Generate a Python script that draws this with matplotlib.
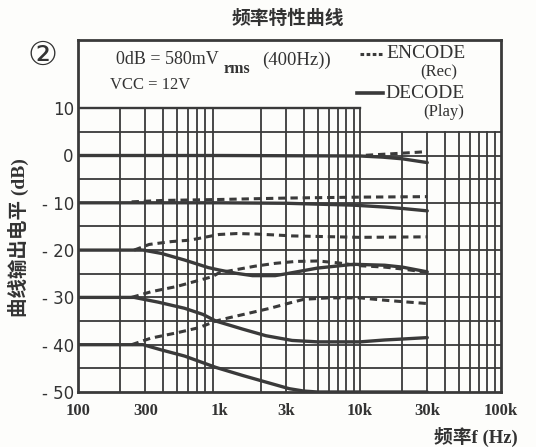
import numpy as np
import matplotlib.pyplot as plt
from matplotlib.lines import Line2D

plt.rcParams['font.family'] = ['Liberation Serif', 'Noto Sans CJK SC', 'DejaVu Sans']

# curve data: frequency (Hz) and output level (dB)
f_dec0 = [100, 1000, 10000, 14500, 20000, 30000]
dec0 = [0, 0, -0.1, -0.35, -0.7, -1.5]
f_enc0 = [11000, 16500, 26000, 30000]
enc0 = [0.05, 0.35, 0.7, 0.85]

f_dec10 = [100, 1000, 3000, 9000, 15000, 20000, 30000]
dec10 = [-10, -10, -10.1, -10.5, -10.9, -11.2, -11.7]
f_enc10 = [240, 400, 1000, 3000, 10000, 30000]
enc10 = [-9.8, -9.5, -9.3, -9.0, -8.8, -8.7]

f_dec20 = [100, 290, 390, 570, 840, 1000, 1320, 1730, 2500, 3000, 5000, 9000, 15000, 20000, 30000]
dec20 = [-20, -20, -20.7, -22.1, -23.7, -24.2, -24.9, -25.4, -25.4, -25.0, -23.8, -23.0, -23.2, -23.6, -24.6]
f_enc20 = [250, 320, 460, 620, 820, 1000, 1340, 1800, 2500, 3300, 10000, 30000]
enc20 = [-20, -18.8, -18.2, -17.9, -17.2, -16.7, -16.5, -16.6, -16.8, -17.0, -17.3, -17.2]

f_dec30 = [100, 250, 370, 570, 770, 950, 1470, 2150, 3300, 5000, 10000, 15000, 20000, 30000]
dec30 = [-30, -30, -31, -32.3, -33.6, -35, -36.7, -38.1, -39.1, -39.4, -39.4, -39.0, -38.8, -38.5]
f_enc30 = [240, 330, 500, 680, 900, 1000, 1400, 1800, 2500, 3500, 5000, 7000, 10000, 15000, 20000, 30000]
enc30 = [-30, -28.8, -27.7, -26.6, -25.6, -24.8, -24.0, -23.4, -22.8, -22.4, -22.3, -22.7, -23.3, -23.6, -24.0, -24.7]

f_dec40 = [100, 290, 390, 570, 950, 1470, 2150, 3150, 4000, 5000, 30000]
dec40 = [-40, -40, -41.1, -42.4, -44.8, -46.5, -47.9, -49.3, -49.8, -50, -50]
f_enc40 = [240, 330, 500, 720, 950, 1180, 1650, 2300, 3150, 4000, 6000, 10000, 15000, 20000, 30000]
enc40 = [-40, -38.6, -37.5, -36.4, -35, -34.3, -33.3, -32.3, -31.2, -30.4, -30.1, -30.1, -30.6, -30.9, -31.3]

x_ticks = [100, 300, 1000, 3000, 10000, 30000, 100000]
x_labels = ['100', '300', '1k', '3k', '10k', '30k', '100k']
y_ticks = [10, 0, -10, -20, -30, -40, -50]
y_labels = ['10', '0', '- 10', '- 20', '- 30', '- 40', '- 50']

W, H = 536, 447
ink = '#3a3a3a'
txt = '#333333'

def px(x, y):
    return x / W, 1 - y / H

fig = plt.figure(figsize=(W / 100, H / 100), dpi=100)
fig.patch.set_facecolor('#fdfdfb')
L, R, T, B = 78, 501, 40, 392
ax = fig.add_axes([L / W, 1 - B / H, (R - L) / W, (B - T) / H])
ax.set_facecolor('#fdfdfb')
ax.set_xscale('log')
ax.set_xlim(100, 100000)
ax.set_ylim(-50, -50 + (B - T) / 4.73)

# hand drawn style grid
minor = [m * d for d in [100, 1000, 10000] for m in range(2, 10)]
for f in minor:
    top = 10 if f < 10000 else 5
    ax.plot([f, f], [-50, top], color=ink, lw=1.3, zorder=1)
ax.plot([10000, 10000], [-50, 10], color=ink, lw=1.3, zorder=1)
for lv in range(-45, 10, 5):
    ax.plot([100, 100000], [lv, lv], color=ink, lw=1.3, zorder=1)
ax.plot([100, 10000], [10, 10], color=ink, lw=1.7, zorder=1)

dash = dict(color=ink, lw=2.2, dashes=(2.4, 1.6), zorder=3)
solid = dict(color=ink, lw=2.4, zorder=2, solid_capstyle='round')
for fx, v in [(f_enc0, enc0), (f_enc10, enc10), (f_enc20, enc20), (f_enc30, enc30), (f_enc40, enc40)]:
    ax.plot(fx, v, **dash)
for fx, v in [(f_dec0, dec0), (f_dec10, dec10), (f_dec20, dec20), (f_dec30, dec30), (f_dec40, dec40)]:
    ax.plot(fx, v, **solid)

for s in ax.spines.values():
    s.set_linewidth(2.0)
    s.set_color(ink)

ax.set_xticks(x_ticks)
ax.set_xticklabels(x_labels, fontsize=12, fontweight='bold', color=txt)
ax.set_xticks([], minor=True)
ax.set_yticks(y_ticks)
ax.set_yticklabels(y_labels, fontsize=12, family='DejaVu Sans', color=txt)
ax.tick_params(length=0, pad=3)
ax.tick_params(axis='x', pad=8)

fig.text(*px(288, 18), '频率特性曲线', fontsize=13.5, fontweight='bold', ha='center', va='center',
         family='Noto Sans CJK SC', color=txt)
fig.text(*px(42, 55), '②', fontsize=24, ha='center', va='center', family='DejaVu Sans', color=txt)

fig.text(*px(116, 60), '0dB = 580mV', fontsize=13, ha='left', va='center', color=txt)
fig.text(*px(224, 69), 'rms', fontsize=11.5, fontweight='bold', ha='left', va='center', color=txt)
fig.text(*px(262, 60), '(400Hz))', fontsize=13.5, ha='left', va='center', color=txt)
fig.text(*px(110, 85), 'VCC = 12V', fontsize=12, ha='left', va='center', color=txt)

fig.add_artist(Line2D([360 / W, 383 / W], [1 - 54 / H] * 2, color=ink, lw=2.2, dashes=(1.2, 0.8)))
fig.text(*px(386, 54), 'ENCODE', fontsize=14, ha='left', va='center', color=txt)
fig.text(*px(420, 72), '(Rec)', fontsize=12, ha='left', va='center', color=txt)
fig.add_artist(Line2D([357 / W, 383 / W], [1 - 93 / H] * 2, color=ink, lw=2.6))
fig.text(*px(385, 93), 'DECODE', fontsize=14, ha='left', va='center', color=txt)
fig.text(*px(423, 112), '(Play)', fontsize=12, ha='left', va='center', color=txt)

fig.text(*px(18, 238), '曲线输出电平 (dB)', fontsize=14, fontweight='bold', rotation=90,
         ha='center', va='center', color=txt)
fig.text(*px(476, 437), '频率f (Hz)', fontsize=13.5, fontweight='bold', ha='center', va='center',
         color=txt)

fig.savefig('out.png', dpi=100, facecolor=fig.get_facecolor())
